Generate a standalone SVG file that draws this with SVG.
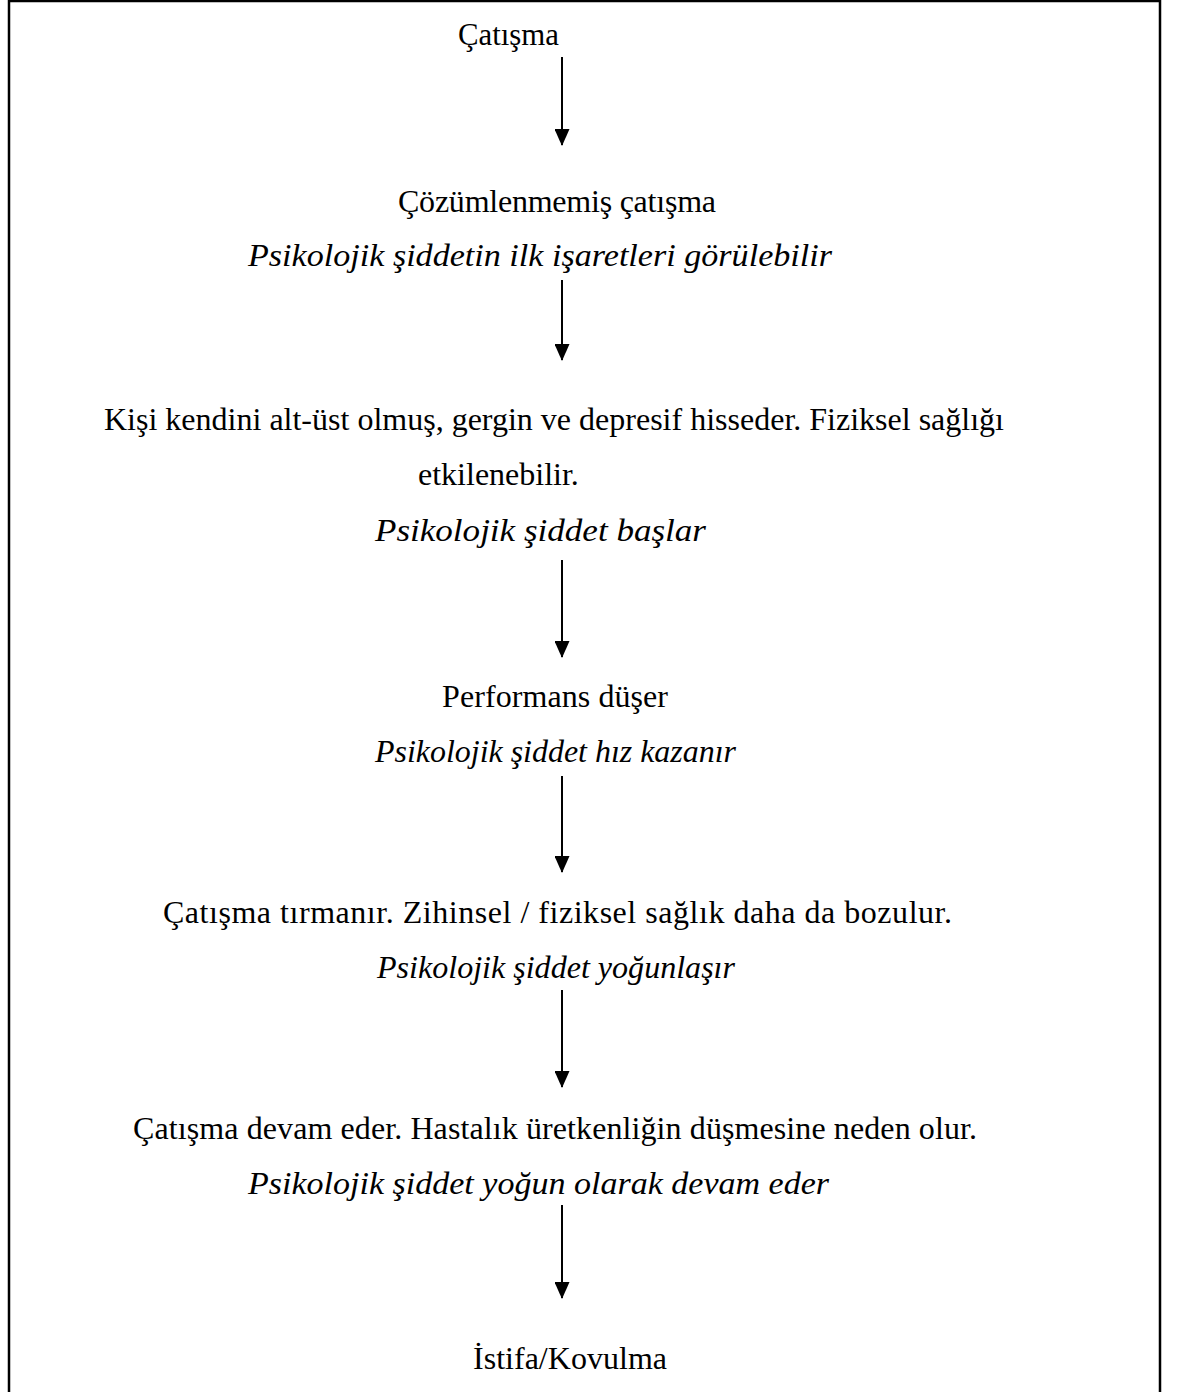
<svg xmlns="http://www.w3.org/2000/svg" width="1180" height="1392" viewBox="0 0 1180 1392">
<style>
text{font-family:"Liberation Serif","Times New Roman",serif;font-size:32px;fill:#000}
.i{font-style:italic}
.c{stroke:#000;stroke-width:2;fill:none}
</style>
<defs>
<marker id="ah" markerUnits="userSpaceOnUse" markerWidth="17" markerHeight="15" refX="16" refY="7.5" orient="auto" viewBox="0 0 17 15">
<path d="M0,0 L17,7.5 L0,15 Z" fill="#000"/>
</marker>
</defs>
<rect x="0" y="0" width="1180" height="1392" fill="#fff"/>
<path d="M9,1400 V1 H1160 V1400" fill="none" stroke="#000" stroke-width="2.5"/>
<g id="connectors">
<line class="c" x1="562" y1="57" x2="562" y2="145" marker-end="url(#ah)"/>
<line class="c" x1="562" y1="280" x2="562" y2="360" marker-end="url(#ah)"/>
<line class="c" x1="562" y1="560" x2="562" y2="657" marker-end="url(#ah)"/>
<line class="c" x1="562" y1="776" x2="562" y2="872" marker-end="url(#ah)"/>
<line class="c" x1="562" y1="990" x2="562" y2="1087" marker-end="url(#ah)"/>
<line class="c" x1="562" y1="1205" x2="562" y2="1298" marker-end="url(#ah)"/>
</g>
<g id="n1"><text x="458" y="45" textLength="101" lengthAdjust="spacingAndGlyphs">Çatışma</text></g>
<g id="n2">
<text x="398" y="212" textLength="318" lengthAdjust="spacing">Çözümlenmemiş çatışma</text>
<text class="i" x="248" y="266" textLength="584" lengthAdjust="spacingAndGlyphs">Psikolojik şiddetin ilk işaretleri görülebilir</text>
</g>
<g id="n3">
<text x="104" y="430" textLength="900" lengthAdjust="spacing">Kişi kendini alt-üst olmuş, gergin ve depresif hisseder. Fiziksel sağlığı</text>
<text x="418" y="485">etkilenebilir.</text>
<text class="i" x="375" y="541" textLength="331" lengthAdjust="spacingAndGlyphs">Psikolojik şiddet başlar</text>
</g>
<g id="n4">
<text x="442" y="707" textLength="226" lengthAdjust="spacing">Performans düşer</text>
<text class="i" x="375" y="762" textLength="361" lengthAdjust="spacingAndGlyphs">Psikolojik şiddet hız kazanır</text>
</g>
<g id="n5">
<text x="163" y="923" textLength="789" lengthAdjust="spacing">Çatışma tırmanır. Zihinsel / fiziksel sağlık daha da bozulur.</text>
<text class="i" x="377" y="978" textLength="358" lengthAdjust="spacingAndGlyphs">Psikolojik şiddet yoğunlaşır</text>
</g>
<g id="n6">
<text x="133" y="1139" textLength="844" lengthAdjust="spacing">Çatışma devam eder. Hastalık üretkenliğin düşmesine neden olur.</text>
<text class="i" x="248" y="1194" textLength="581" lengthAdjust="spacingAndGlyphs">Psikolojik şiddet yoğun olarak devam eder</text>
</g>
<g id="n7"><text x="473" y="1369" textLength="194" lengthAdjust="spacing">İstifa/Kovulma</text></g>
</svg>
